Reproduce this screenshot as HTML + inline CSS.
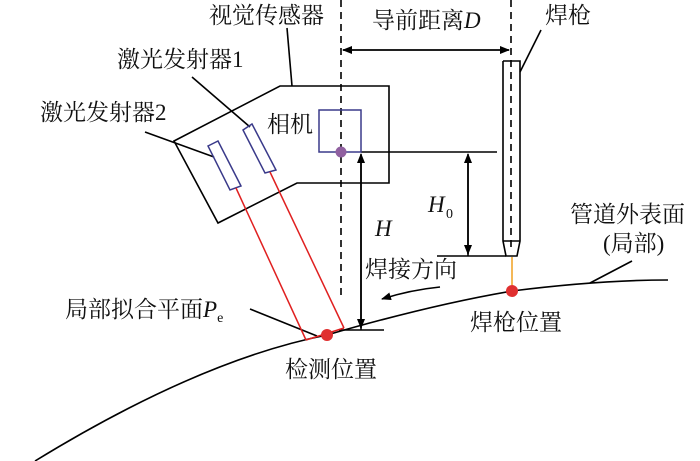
<!DOCTYPE html>
<html><head><meta charset="utf-8"><style>
html,body{margin:0;padding:0;background:#fff;}
svg{display:block;}
text{font-family:"Liberation Serif","Noto Serif CJK SC",serif;font-size:23px;fill:#111;}
.i{font-style:italic;}
</style></head><body>
<svg width="700" height="461" viewBox="0 0 700 461" xmlns="http://www.w3.org/2000/svg">
<defs>
<marker id="a" markerWidth="10" markerHeight="10" refX="9" refY="4" orient="auto" markerUnits="userSpaceOnUse"><path d="M0,0 L10,4 L0,8 Z" fill="#000"/></marker>
</defs>
<g fill="none" stroke="#000" stroke-width="1.6">
<!-- sensor body -->
<polygon points="280,86 389,86 389,183 297,183 218,223 174,141"/>
<line x1="292" y1="86" x2="287" y2="28"/>
<!-- dashed lines -->
<line x1="341" y1="0" x2="341" y2="298" stroke-dasharray="7,5"/>
<line x1="511" y1="0" x2="511" y2="250" stroke-dasharray="7,5"/>
<!-- D arrow -->
<line x1="343" y1="50" x2="509" y2="50" marker-end="url(#a)"/>
<line x1="509" y1="50" x2="343" y2="50" marker-end="url(#a)"/>
<!-- torch -->
<polyline points="503,61 520,61 520,241 517,256 506,256 503,241 503,61"/>
<line x1="503" y1="241" x2="520" y2="241"/>
<line x1="520" y1="72" x2="541" y2="30"/>
<!-- horizontal ref lines -->
<line x1="361" y1="152" x2="497" y2="152"/>
<line x1="437" y1="256" x2="506" y2="256"/>
<line x1="339" y1="330" x2="384" y2="330"/>
<!-- H arrow -->
<line x1="361" y1="330" x2="361" y2="154" marker-end="url(#a)"/>
<line x1="361" y1="160" x2="361" y2="328" marker-end="url(#a)"/>
<!-- H0 arrows -->
<line x1="468" y1="256" x2="468" y2="154" marker-end="url(#a)"/>
<line x1="468" y1="160" x2="468" y2="254" marker-end="url(#a)"/>
<!-- surface curve -->
<path d="M35,461 Q200,360 327,335 Q430,305 512,291 Q600,280 668,280"/>
<line x1="590" y1="283" x2="632" y2="261"/>
<!-- welding direction -->
<path d="M440,287 Q410,290 382,299" marker-end="url(#a)"/>
<!-- leaders -->
<line x1="192" y1="77" x2="250" y2="127"/>
<line x1="145" y1="132" x2="214" y2="157"/>
<line x1="250" y1="309" x2="317" y2="336"/>
</g>
<!-- camera -->
<rect x="319" y="110" width="42" height="42" fill="none" stroke="#3a3a8a" stroke-width="1.5"/>
<!-- emitters -->
<polygon points="243,130 252,124 276,170 265,173" fill="none" stroke="#3a3a8a" stroke-width="1.5"/>
<polygon points="208,146 218,141 241,186 230,190" fill="none" stroke="#3a3a8a" stroke-width="1.5"/>
<!-- red lasers -->
<g stroke="#e02020" stroke-width="1.5" fill="none">
<line x1="236" y1="188" x2="306" y2="340"/>
<line x1="270" y1="172" x2="344" y2="328"/>
<line x1="306" y1="340" x2="344" y2="328"/>
</g>
<line x1="512" y1="257" x2="512" y2="285" stroke="#f0a020" stroke-width="1.5"/>
<circle cx="341" cy="152" r="5.5" fill="#9060a0"/>
<circle cx="512" cy="291" r="6" fill="#e03030"/>
<circle cx="327" cy="335" r="6" fill="#e03030"/>
<!-- labels -->
<text x="209" y="23">视觉传感器</text>
<text x="372" y="28">导前距离<tspan class="i">D</tspan></text>
<text x="545" y="23">焊枪</text>
<text x="117" y="67">激光发射器1</text>
<text x="40" y="120">激光发射器2</text>
<text x="267" y="132">相机</text>
<text x="428" y="212" class="i">H</text><text x="446" y="218" style="font-size:14px">0</text>
<text x="375" y="236" class="i">H</text>
<text x="570" y="222">管道外表面</text>
<text x="603" y="251">(局部)</text>
<text x="365" y="277">焊接方向</text>
<text x="65" y="317">局部拟合平面<tspan class="i">P</tspan><tspan style="font-size:14px" dy="5">e</tspan></text>
<text x="285" y="377">检测位置</text>
<text x="470" y="330">焊枪位置</text>
</svg>
</body></html>
